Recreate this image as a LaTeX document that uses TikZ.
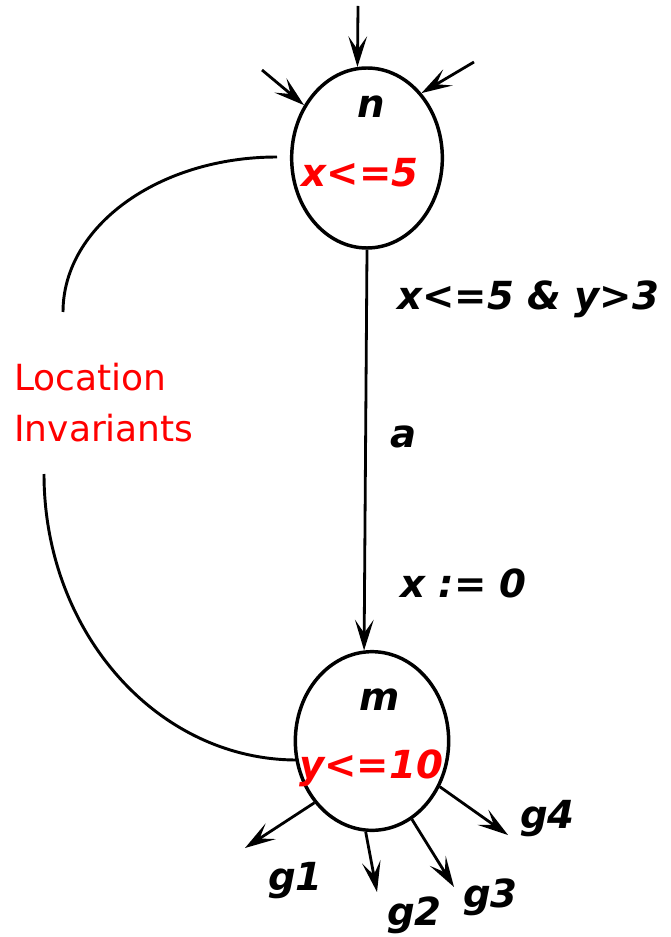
\documentclass[tikz,border=0pt]{standalone}
\usepackage{fontspec}
\setmainfont{DejaVu Sans}
\usetikzlibrary{shapes.geometric,arrows.meta}
\begin{document}
\begin{tikzpicture}[x=0.75pt,y=-0.75pt,
  loc/.style={draw,ellipse,line width=2.6pt,inner sep=0pt},
  arr/.style={line width=2.1pt,-{Stealth[length=23pt,width=14pt,inset=10pt]}},
  brace/.style={line width=2.2pt},
  lbl/.style={inner sep=0pt,font=\fontsize{29}{34}\selectfont\bfseries\itshape},
  inv/.style={lbl,text=red},
  note/.style={inner sep=0pt,text=red,font=\fontsize{27}{38}\selectfont}]
\useasboundingbox (0,0) rectangle (670,937);
% locations
\node[loc,minimum width=113pt,minimum height=135pt] (n) at (367,158) {};
\node[loc,minimum width=115pt,minimum height=134pt] (m) at (372,741) {};
% texts inside locations
\node[lbl,anchor=base] (nname) at (371,118) {n};
\node[inv,anchor=base] (ninv) at (360,187) {x<=5};
\node[lbl,anchor=base] (mname) at (380,710) {m};
\node[inv,anchor=base] (minv) at (371,778) {y<=10};
% incoming arrows
\coordinate (in1) at (358,6);
\coordinate (in2) at (262,70);
\coordinate (in3) at (474,62);
\draw[arr] (in1) -- (n.96);
\draw[arr] (in2) -- (n.140);
\draw[arr] (in3) -- (n.50);
% transition
\draw[arr] (n.south) -- (m.95);
\node[lbl,anchor=base west] (guard) at (397,310) {x<=5 \& y>3};
\node[lbl,anchor=base west] (act) at (390,447) {a};
\node[lbl,anchor=base west] (reset) at (400,597) {x := 0};
% outgoing arrows
\coordinate (o1) at (245,848);
\coordinate (o2) at (377,892);
\coordinate (o3) at (454,887);
\coordinate (o4) at (508,835);
\draw[arr] (m.227) -- (o1);
\draw[arr] (m.266) -- (o2);
\draw[arr] (m.297) -- (o3);
\draw[arr] (m.326) -- (o4);
\node[lbl,anchor=base west] (g1) at (268,890) {g1};
\node[lbl,anchor=base west] (g2) at (387,925) {g2};
\node[lbl,anchor=base west] (g3) at (463,907) {g3};
\node[lbl,anchor=base west] (g4) at (520,828) {g4};
% location invariants brace
\coordinate (b1) at (277,157);
\coordinate (b2) at (63,312);
\coordinate (b3) at (44,474);
\coordinate (b4) at (297,760);
\draw[brace] (b1) .. controls (159,157) and (63,226) .. (b2);
\draw[brace] (b3) .. controls (44,632) and (157,760) .. (b4);
\node[note,anchor=base west] (l1) at (14,390) {Location};
\node[note,anchor=base west] (l2) at (14,441) {Invariants};
\end{tikzpicture}
\end{document}
